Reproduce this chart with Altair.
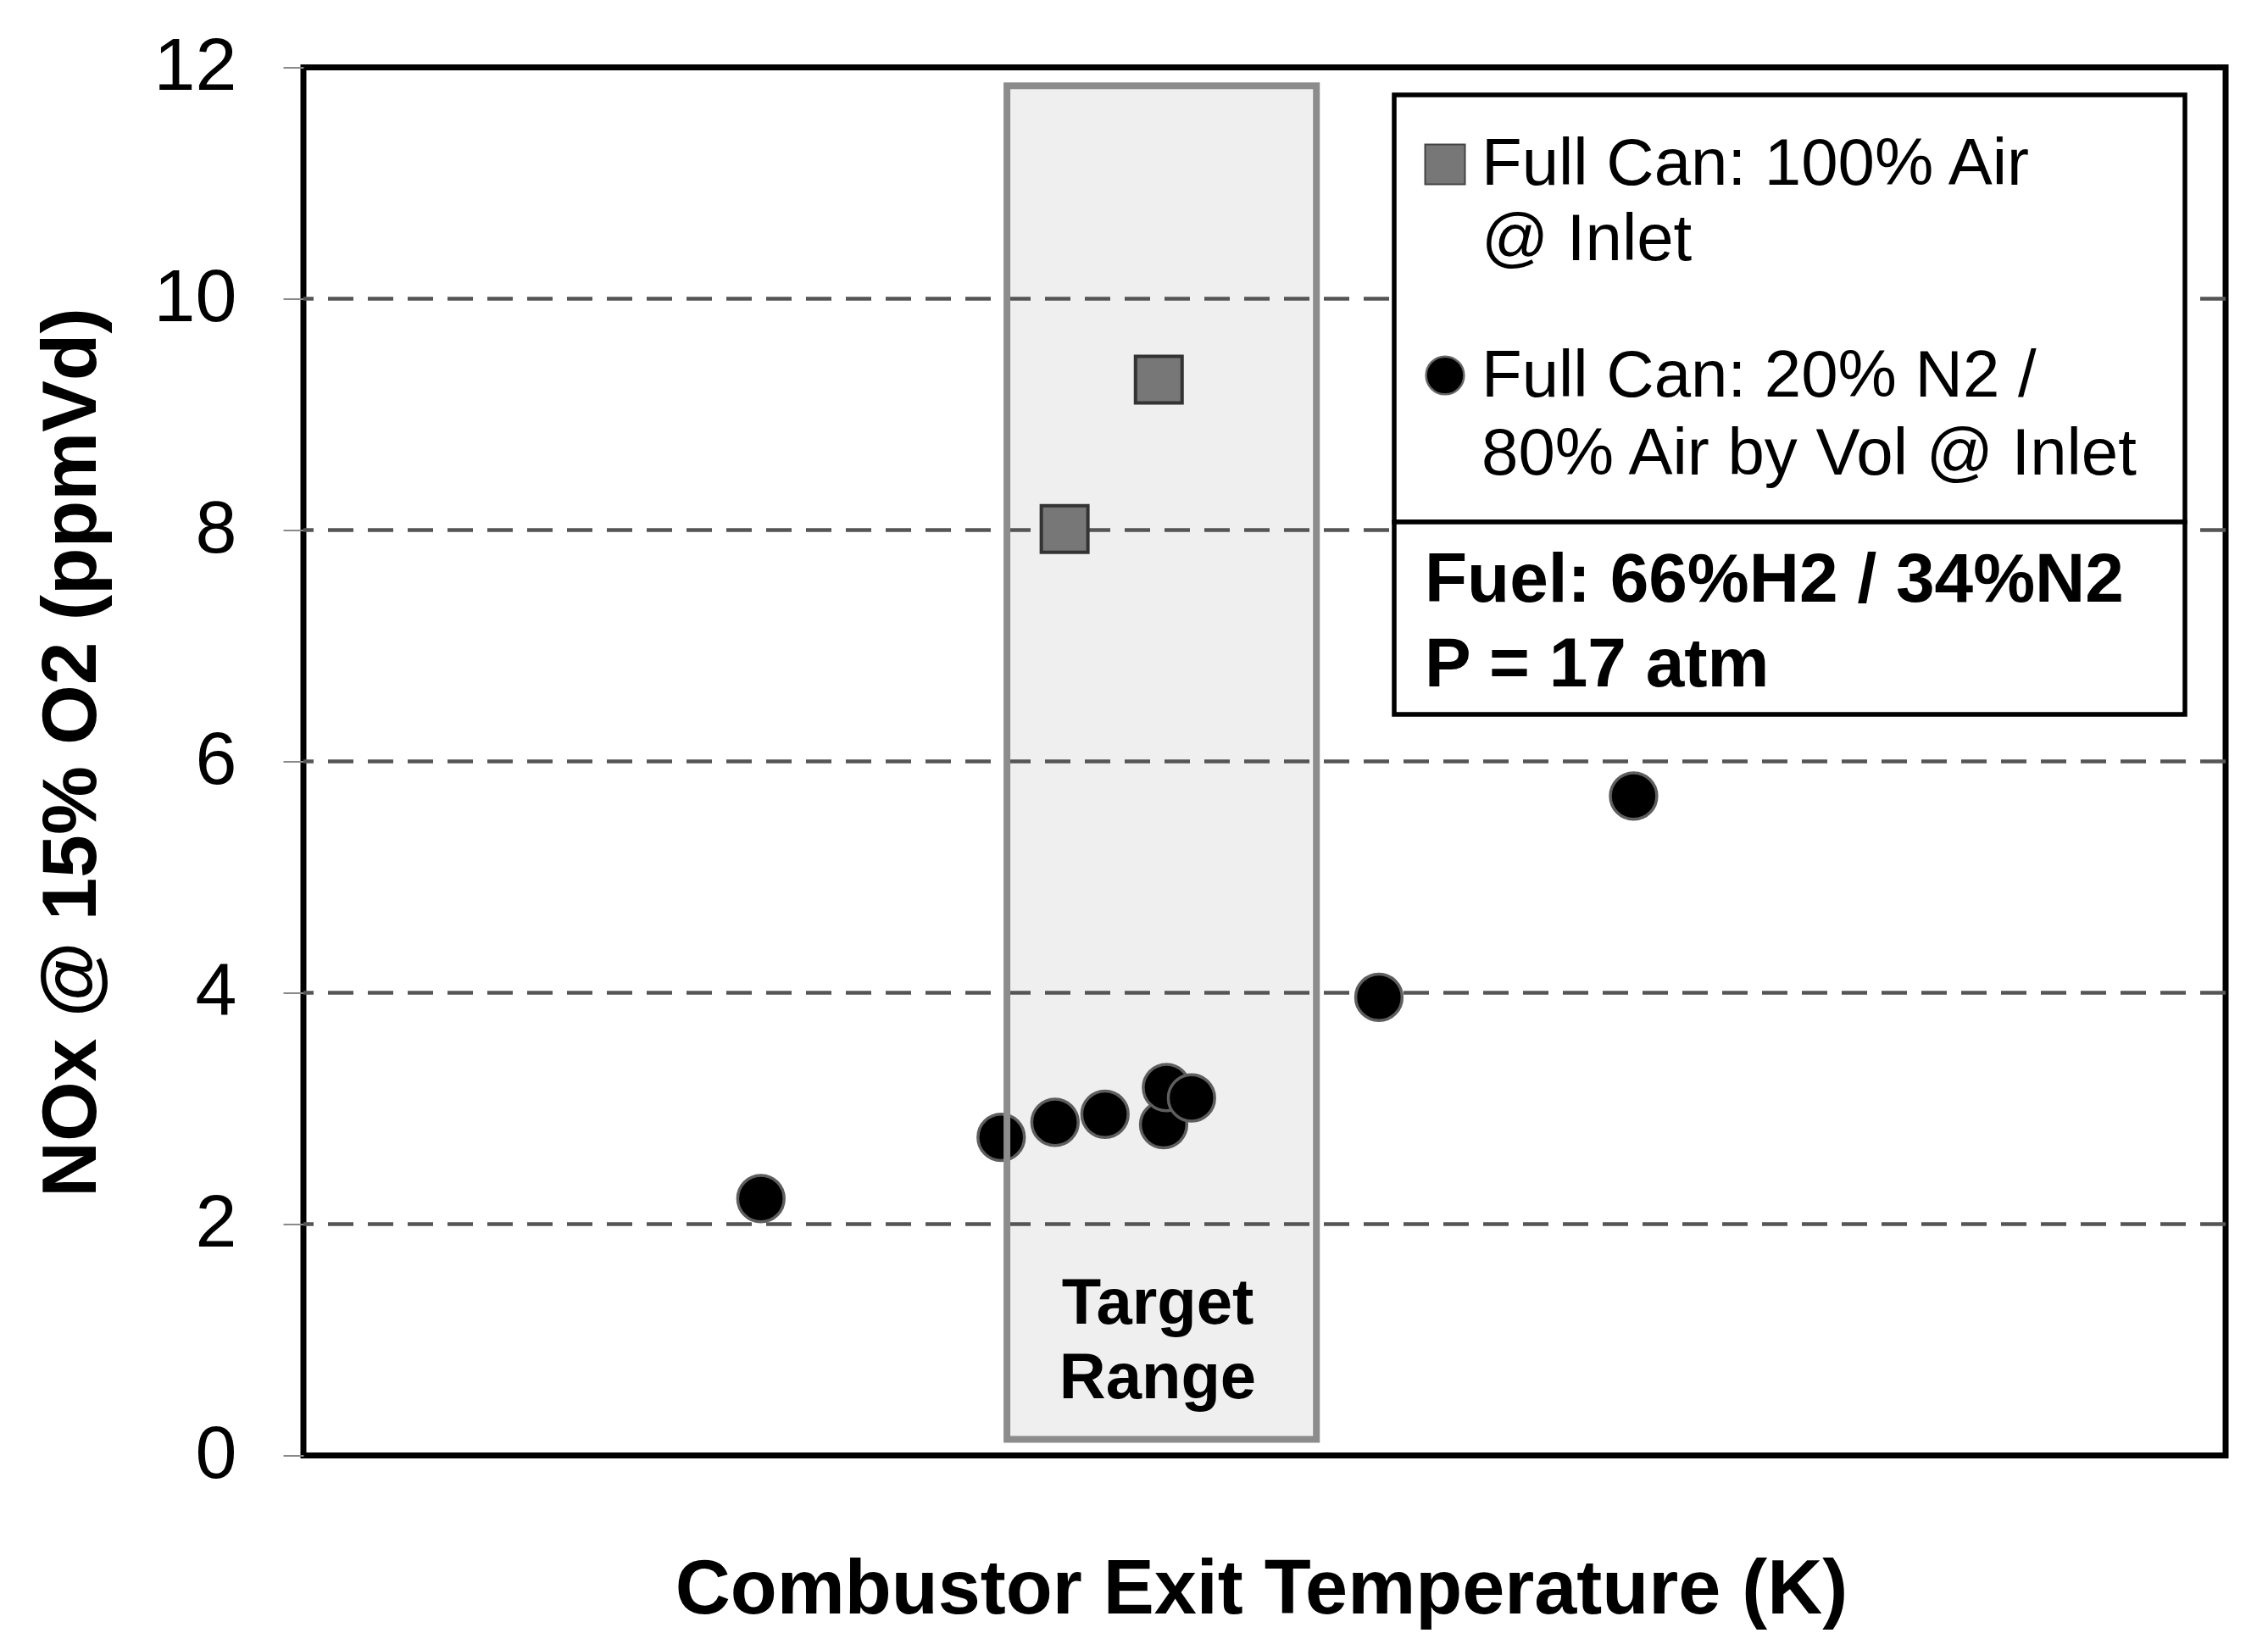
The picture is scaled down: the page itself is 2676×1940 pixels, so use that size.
import altair as alt
import pandas as pd

# ---------------- data (x in relative units, no x labels shown) -------------
square_x = [39.6, 44.5]
square_y = [8.01, 9.30]
circle_x = [23.8, 36.3, 39.1, 41.7, 44.75, 44.9, 46.2, 55.95, 69.2]
circle_y = [2.22, 2.75, 2.88, 2.95, 2.86, 3.18, 3.09, 3.96, 5.70]
target_x = [36.6, 52.7]
target_y = [0.14, 11.84]
grid_values = [2, 4, 6, 8, 10]
y_ticks = [0, 2, 4, 6, 8, 10, 12]
legend_labels = [["Full Can: 100% Air", "@ Inlet"],
                 ["Full Can: 20% N2 /", "80% Air by Vol @ Inlet"]]
note_lines = ["Fuel: 66%H2 / 34%N2", "P = 17 atm"]
target_label = ["Target", "Range"]
x_title = "Combustor Exit Temperature (K)"
y_title = "NOx @ 15% O2 (ppmVd)"

FONT = "Liberation Sans"
W, H = 2268, 1638

xscale = alt.Scale(domain=[0, 100], nice=False, zero=False)
yscale = alt.Scale(domain=[0, 12], nice=False)
xaxis = alt.Axis(labels=False, ticks=False, domain=False, grid=False,
                 titleFont=FONT, titleFontSize=90, titleFontWeight="bold", titleColor="black",
                 titleX=1130, titleY=186, titleAlign="center", titleBaseline="alphabetic")
yaxis = alt.Axis(values=y_ticks, grid=False, domain=False, tickColor="#8a8a8a", tickSize=24,
                 tickWidth=2, labelFont=FONT, labelFontSize=88, labelColor="black", labelPadding=55,
                 titleFont=FONT, titleFontSize=91, titleFontWeight="bold", titleColor="black",
                 titleAngle=270, titleX=-246, titleY=808, titleAlign="center",
                 titleBaseline="alphabetic")

target_df = pd.DataFrame({"x": [target_x[0]], "x2": [target_x[1]],
                          "y": [target_y[0]], "y2": [target_y[1]]})
grid_df = pd.DataFrame({"g": grid_values})
sq_df = pd.DataFrame({"T": square_x, "NOx": square_y})
ci_df = pd.DataFrame({"T": circle_x, "NOx": circle_y})
one = pd.DataFrame({"k": [0]})

box_fill = alt.Chart(target_df).mark_rect(fill="#efefef").encode(
    x=alt.X("x:Q", scale=xscale, axis=xaxis, title=x_title), x2="x2:Q",
    y=alt.Y("y:Q", scale=yscale, axis=yaxis, title=y_title), y2="y2:Q")

grid = alt.Chart(grid_df).mark_rule(color="#555555", strokeWidth=4.5, strokeDash=[30, 17]).encode(
    y=alt.Y("g:Q", scale=yscale, axis=yaxis, title=y_title))

squares = alt.Chart(sq_df).mark_point(shape="square", filled=True, fill="#777777", stroke="#333333",
                                      strokeWidth=4, size=3025, opacity=1).encode(
    x=alt.X("T:Q", scale=xscale, axis=xaxis, title=x_title),
    y=alt.Y("NOx:Q", scale=yscale, axis=yaxis, title=y_title))

circles = alt.Chart(ci_df).mark_point(shape="circle", filled=True, fill="#000000", stroke="#5e5e5e",
                                      strokeWidth=3.5, size=3000, opacity=1).encode(
    x=alt.X("T:Q", scale=xscale, axis=xaxis, title=x_title),
    y=alt.Y("NOx:Q", scale=yscale, axis=yaxis, title=y_title))

box_stroke = alt.Chart(target_df).mark_rect(fillOpacity=0, stroke="#8c8c8c", strokeWidth=8).encode(
    x=alt.X("x:Q", scale=xscale, axis=xaxis, title=x_title), x2="x2:Q",
    y=alt.Y("y:Q", scale=yscale, axis=yaxis, title=y_title), y2="y2:Q")

target_text = alt.Chart(one).mark_text(font=FONT, fontSize=76, fontWeight="bold", color="black",
                                       align="center", baseline="alphabetic", lineHeight=88).encode(
    text=alt.value(target_label), x=alt.value(1008), y=alt.value(1482.5))

# legend (drawn as annotation boxes)
leg_box = alt.Chart(one).mark_rect(fill="white", stroke="black", strokeWidth=5.5).encode(
    x=alt.value(1287), x2=alt.value(2220), y=alt.value(32.5), y2=alt.value(536.5))
note_box = alt.Chart(one).mark_rect(fill="white", stroke="black", strokeWidth=5.5).encode(
    x=alt.value(1287), x2=alt.value(2220), y=alt.value(536.5), y2=alt.value(763.5))
leg_sq = alt.Chart(one).mark_point(shape="square", filled=True, fill="#777777", stroke="#444444",
                                   strokeWidth=2, size=2209, opacity=1).encode(
    x=alt.value(1347), y=alt.value(114.5))
leg_ci = alt.Chart(one).mark_point(shape="circle", filled=True, fill="#000000", stroke="#666666",
                                   strokeWidth=2.5, size=2000, opacity=1).encode(
    x=alt.value(1347), y=alt.value(363.5))
leg_t1 = alt.Chart(one).mark_text(font=FONT, fontSize=78, color="black", align="left",
                                  baseline="alphabetic", lineHeight=89).encode(
    text=alt.value(legend_labels[0]), x=alt.value(1390), y=alt.value(138.5))
leg_t2 = alt.Chart(one).mark_text(font=FONT, fontSize=78, color="black", align="left",
                                  baseline="alphabetic", lineHeight=92).encode(
    text=alt.value(legend_labels[1]), x=alt.value(1390), y=alt.value(388.5))
note_t = alt.Chart(one).mark_text(font=FONT, fontSize=82, fontWeight="bold", color="black",
                                  align="left", baseline="alphabetic", lineHeight=100).encode(
    text=alt.value(note_lines), x=alt.value(1323), y=alt.value(630.5))

chart = alt.layer(
    box_fill, grid, squares, circles, box_stroke, target_text,
    leg_box, note_box, leg_sq, leg_ci, leg_t1, leg_t2, note_t
).properties(
    width=W, height=H,
    autosize=alt.AutoSizeParams(type="none"),
    padding={"left": 350, "top": 71.5, "right": 40, "bottom": 218},
    background="white",
).configure_view(stroke="black", strokeWidth=7, fill="white")

chart.save("out.html", embed_options={"renderer": "svg", "actions": False})
